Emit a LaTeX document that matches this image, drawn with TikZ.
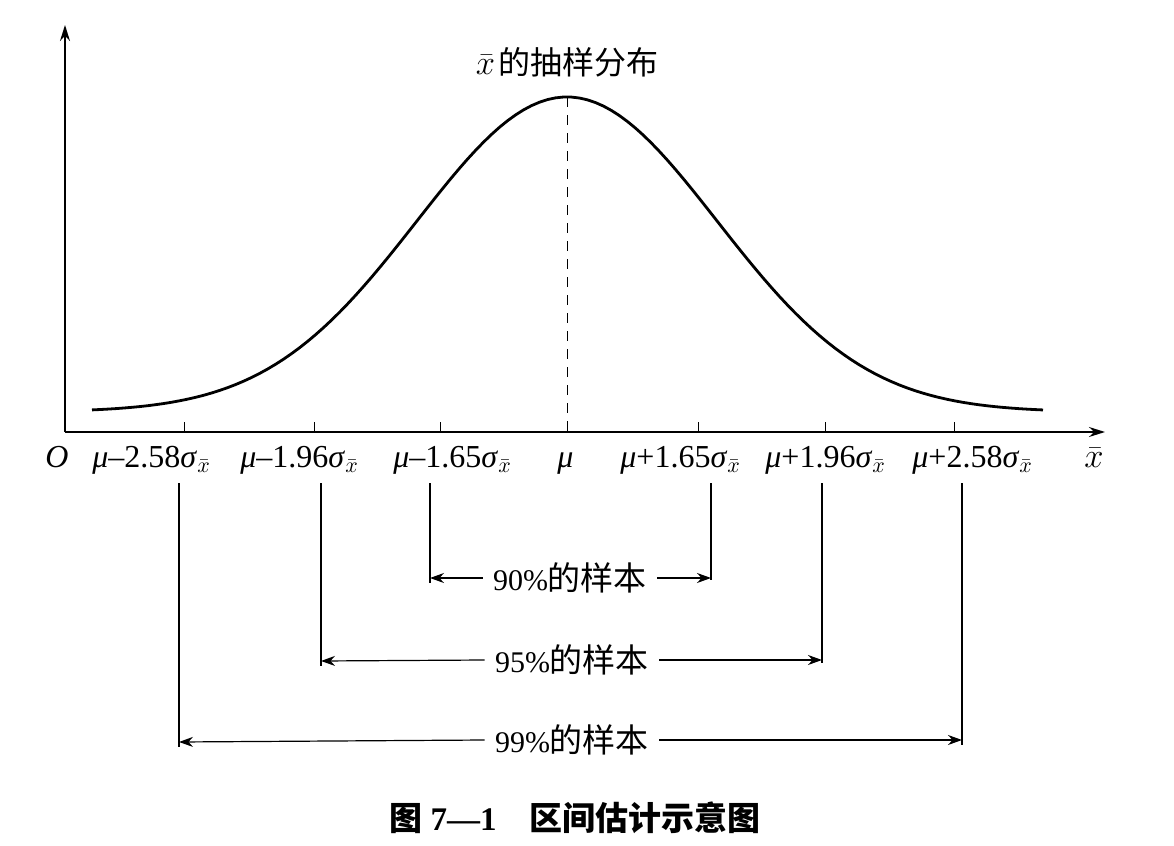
\documentclass[tikz,border=0pt]{standalone}
\usepackage{fontspec}
\setmainfont{Liberation Serif}
\newfontfamily\cjk{Noto Sans CJK SC}
\usetikzlibrary{arrows.meta}
\newcommand{\sx}{$_{\bar{x}}$}

\begin{document}
\begin{tikzpicture}[x=0.5pt,y=-0.5pt,
    axislbl/.style={anchor=base west,inner sep=0pt,font=\fontsize{16}{19}\selectfont},
    share/.style={inner sep=5pt,font=\fontsize{15}{18}\selectfont},
    guide/.style={line width=0.6pt},
    spread/.style={line width=0.6pt,-{Stealth[length=7pt,width=5pt]}}]
    \useasboundingbox (0,0) rectangle (1174,846);

          \coordinate (O) at (65,432);
          \coordinate (ytop) at (65,25);
          \coordinate (xend) at (1105,432);
          \draw[line width=0.8pt,-{Stealth[length=8pt,width=5pt]}] (O) -- (ytop);
          \draw[line width=0.8pt,-{Stealth[length=8pt,width=5pt]}] (O) -- (xend);

          \draw[line width=1.4pt] plot[domain=92:1043,samples=120]
                (\x,{412-315*exp(-0.5*((\x-567)/150)^2)});
          \coordinate (peak) at (567,97);
          \coordinate (mu) at (567,432);
          \draw[dashed,dash pattern=on 5pt off 4pt] (peak) -- (mu);

          \foreach \t/\xx in {m258/184,m196/314,m165/440,p165/698,p196/825,p258/954}
                {\coordinate (\t) at (\xx,432);
                 \draw (\t) -- ++(0,-10);}

          \node (title) at (567,62) [font=\fontsize{16}{19}\selectfont] {$\bar{x}$\kern1.5pt{\cjk 的抽样分布}};

          \node (lO) at (45,467) [axislbl] {\textit{O}};
          \node (lm258) at (92,467) [axislbl] {\textit{μ}–2.58\textit{σ}\sx};
          \node (lm196) at (240,467) [axislbl] {\textit{μ}–1.96\textit{σ}\sx};
          \node (lm165) at (393,467) [axislbl] {\textit{μ}–1.65\textit{σ}\sx};
          \node (lmu) at (557,467) [axislbl] {\textit{μ}};
          \node (lp165) at (620,467) [axislbl] {\textit{μ}+1.65\textit{σ}\sx};
          \node (lp196) at (765,467) [axislbl] {\textit{μ}+1.96\textit{σ}\sx};
          \node (lp258) at (912,467) [axislbl] {\textit{μ}+2.58\textit{σ}\sx};
          \node (lx) at (1084,467) [axislbl] {$\bar{x}$};

          \node (s90) at (570,578) [share] {90\%{\cjk\fontsize{16.5}{18}\selectfont 的样本}};
          \node (s95) at (572,660) [share] {95\%{\cjk\fontsize{16.5}{18}\selectfont 的样本}};
          \node (s99) at (572,740) [share] {99\%{\cjk\fontsize{16.5}{18}\selectfont 的样本}};

          \coordinate (a90) at (430,483);  \coordinate (b90) at (430,583);
          \coordinate (c90) at (711,483);  \coordinate (d90) at (711,580);
          \coordinate (a95) at (321,483);  \coordinate (b95) at (321,666);
          \coordinate (c95) at (822,483);  \coordinate (d95) at (822,663);
          \coordinate (a99) at (179,483);  \coordinate (b99) at (179,747);
          \coordinate (c99) at (962,483);  \coordinate (d99) at (962,745);

          \draw[guide] (a90) -- (b90);
          \draw[guide] (c90) -- (d90);
          \draw[guide] (a95) -- (b95);
          \draw[guide] (c95) -- (d95);
          \draw[guide] (a99) -- (b99);
          \draw[guide] (c99) -- (d99);

          \draw[spread] (s90.west) -- (430,578);
          \draw[spread] (s90.east) -- (711,578);
          \draw[spread] (s95.west) -- (321,661);
          \draw[spread] (s95.east) -- (822,660);
          \draw[spread] (s99.west) -- (179,742);
          \draw[spread] (s99.east) -- (962,740);

          \node (caption) at (575,818) [font=\bfseries\fontsize{16.5}{19}\selectfont]
                {{\cjk\bfseries 图} 7—1\quad {\cjk\bfseries 区间估计示意图}};
    \end{tikzpicture}
\end{document}
